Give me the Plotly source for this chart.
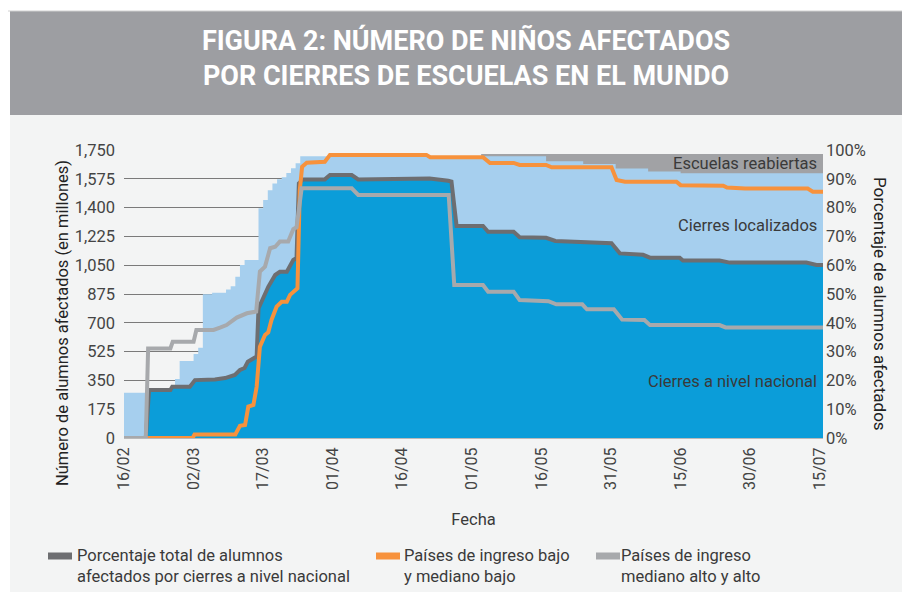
import plotly.graph_objects as go

# ---------------- data (x in days since 16/02/2020) ----------------
tick_days = [0, 15, 30, 45, 60, 75, 90, 105, 120, 135, 150]
tick_labels = ["16/02", "02/03", "17/03", "01/04", "16/04", "01/05",
               "16/05", "31/05", "15/06", "30/06", "15/07"]
left_ticks = [0, 175, 350, 525, 700, 875, 1050, 1225, 1400, 1575, 1750]
left_tick_labels = ["0", "175", "350", "525", "700", "875", "1,050", "1,225",
                    "1,400", "1,575", "1,750"]
right_ticks = [0, 10, 20, 30, 40, 50, 60, 70, 80, 90, 100]
right_tick_labels = ["0%", "10%", "20%", "30%", "40%", "50%", "60%", "70%",
                     "80%", "90%", "100%"]

# Escuelas reabiertas (top of grey band, millions)
reopen_days = [77, 151]
reopen_top = [1726, 1726]

# Total affected (national + localized), millions, step series
total_days = [0, 5, 11, 12, 15, 16, 17, 19, 22, 23, 24, 25, 26, 29, 30, 31, 32,
              33, 34, 35, 36, 37, 38, 91, 99, 106, 113, 120, 151]
total_vals = [275, 287, 358, 468, 510, 549, 873, 883, 902, 922, 980, 1051, 1082,
              1396, 1446, 1505, 1547, 1572, 1584, 1610, 1639, 1669, 1712, 1682,
              1665, 1637, 1620, 1608, 1608]

# National closures, millions
nat_days = [4.7, 5.4, 10, 10.4, 14.2, 15.3, 19.6, 21.8, 23.9, 25, 26, 26.7, 27.9,
            28.6, 29, 29.7, 31.1, 32.6, 33.6, 35.1, 35.8, 36.5, 37.2, 37.7, 38.6,
            43.3, 44.4, 49.1, 50.5, 65.9, 69.9, 70.6, 71.7, 77.4, 78.5, 84, 85.3,
            91, 93, 98.6, 105.1, 106.9, 111.9, 113.4, 119.8, 120.5, 128.4, 130.6,
            147.1, 149.3, 151]
nat_vals = [0, 287, 287, 306, 306, 348, 352, 360, 380, 410, 422, 460, 482, 492,
            785, 825, 915, 985, 1003, 1003, 1047, 1077, 1090, 1545, 1568, 1568,
            1593, 1593, 1568, 1572, 1560, 1555, 1285, 1285, 1250, 1250, 1218,
            1214, 1195, 1188, 1181, 1120, 1111, 1094, 1094, 1077, 1077, 1064,
            1064, 1050, 1050]

# Percentage lines
tot_pct_days = [0] + nat_days
tot_pct = [0, 0, 16.7, 16.7, 17.8, 17.8, 20.1, 20.3, 20.8, 21.9, 23.6, 24.3, 26.5,
           27.7, 28.3, 45, 47.3, 52.5, 56.6, 57.7, 57.7, 60.1, 61.8, 62.5, 88.4,
           89.8, 89.8, 91.3, 91.3, 89.8, 90.1, 89.3, 89, 73.6, 73.6, 71.6, 71.6,
           69.7, 69.5, 68.4, 68, 67.6, 64.1, 63.6, 62.6, 62.6, 61.6, 61.6, 60.9,
           60.9, 60.1, 60.1]

low_days = [0, 14.8, 15.2, 24, 25, 26.1, 26.8, 27.9, 28.6, 29.3, 30.4, 31.1, 31.8,
            32.9, 34, 35.1, 35.8, 36.9, 37.4, 37.9, 38.4, 39.4, 43.3, 44.4, 65.2,
            66, 77.4, 78.9, 84, 85.3, 91, 92.2, 105.1, 106.2, 108, 119.1, 120,
            129.2, 130, 133.9, 147.4, 148.5, 151]
low_pct = [0, 0, 1.2, 1.2, 4.2, 4.5, 10.9, 11.5, 17.8, 31.7, 35.8, 36.7, 41, 45.6,
           47.3, 47.3, 49.7, 51.4, 52, 86.1, 94.2, 95.6, 95.9, 98.3, 98.3, 97.5,
           97.5, 95.5, 95.5, 94.8, 94.8, 94, 94, 89.6, 89, 89, 87.8, 87.6, 87,
           86.6, 86.6, 85.5, 85.5]

high_days = [0, 4.7, 5.2, 10, 10.5, 15, 15.6, 19.3, 20.7, 22.1, 24.3, 26.5, 28.5,
             29.3, 30.4, 31.5, 32.6, 33.6, 35.4, 36.5, 37.2, 38.3, 49.1, 50.5, 70,
             71.2, 77.4, 78.5, 84, 85.3, 91.5, 93.2, 98.8, 99.8, 105.6, 107.4,
             112.2, 113.4, 128.4, 129.7, 151]
high_pct = [0, 0, 31.1, 31.1, 33.4, 33.4, 37.5, 37.5, 38.3, 39.2, 41.8, 43.3, 43.9,
            57.8, 59.5, 65.9, 66.4, 68.2, 68.2, 72.5, 73.2, 86.7, 86.7, 84.4, 84.4,
            53.1, 53.1, 50.8, 50.8, 47.9, 47.5, 46.4, 46.4, 44.7, 44.7, 41.1, 41.0,
            39.2, 39.2, 38.4, 38.4]

# ---------------- styling ----------------
W, H = 910, 592
OFF = 8                      # page body margin offset
L, R, T, B = 124 - OFF, 823 - OFF, 150 - OFF, 438 - OFF   # plot area in figure pixels
FONT = "Roboto"
FS = 16.5
C_DARKBLUE = "#0b9dd9"
C_LIGHTBLUE = "#a6cfee"
C_REOPEN = "#a1a2a5"
C_TOT = "#6d6e71"
C_LOW = "#f7923c"
C_HIGH = "#a7a9ac"
C_PANEL = "#f3f4f4"
C_TEXT = "#3a3a3a"


def px_x(px):
    """screen x pixel of the reference -> paper fraction"""
    return (px - OFF - L) / (R - L)


def px_y(py):
    return (B - (py - OFF)) / (B - T)


fig = go.Figure()

fig.add_trace(go.Scatter(x=reopen_days, y=reopen_top, mode="lines", line=dict(width=0, shape="hv"),
                         fill="tozeroy", fillcolor=C_REOPEN, name="Escuelas reabiertas",
                         hoverinfo="skip"))
fig.add_trace(go.Scatter(x=total_days, y=total_vals, mode="lines", line=dict(width=0, shape="hv"),
                         fill="tozeroy", fillcolor=C_LIGHTBLUE, name="Cierres localizados",
                         hoverinfo="skip"))
fig.add_trace(go.Scatter(x=nat_days, y=nat_vals, mode="lines", line=dict(width=0),
                         fill="tozeroy", fillcolor=C_DARKBLUE, name="Cierres a nivel nacional",
                         hoverinfo="skip"))

fig.add_trace(go.Scatter(x=tot_pct_days, y=tot_pct, mode="lines", yaxis="y2",
                         line=dict(color=C_TOT, width=4),
                         name="Porcentaje total de alumnos afectados por cierres a nivel nacional"))
fig.add_trace(go.Scatter(x=low_days, y=low_pct, mode="lines", yaxis="y2",
                         line=dict(color=C_LOW, width=4),
                         name="Países de ingreso bajo y mediano bajo"))
fig.add_trace(go.Scatter(x=high_days, y=high_pct, mode="lines", yaxis="y2",
                         line=dict(color=C_HIGH, width=4),
                         name="Países de ingreso mediano alto y alto"))

shapes = [
    # light panel
    dict(type="rect", xref="paper", yref="paper", x0=px_x(10), x1=px_x(W + OFF), y0=px_y(H + OFF),
         y1=px_y(11), fillcolor=C_PANEL, line=dict(width=0), layer="below"),
    # title band
    dict(type="rect", xref="paper", yref="paper", x0=px_x(10), x1=px_x(W + OFF), y0=px_y(115),
         y1=px_y(11), fillcolor="#9d9ea2", line=dict(width=0), layer="below"),
    # top hairline
    dict(type="line", xref="paper", yref="paper", x0=px_x(OFF), x1=px_x(W + OFF), y0=px_y(11),
         y1=px_y(11), line=dict(color="#d0d0d0", width=1), layer="below"),
]

legend_items = [
    (48, 78, C_TOT, "Porcentaje total de alumnos<br>afectados por cierres a nivel nacional"),
    (376, 405, C_LOW, "Países de ingreso bajo<br>y mediano bajo"),
    (596, 622, C_HIGH, "Países de ingreso<br>mediano alto y alto"),
]
annotations = []
for x0, xt, col, txt in legend_items:
    shapes.append(dict(type="line", xref="paper", yref="paper", x0=px_x(x0), x1=px_x(x0 + 24),
                       y0=px_y(556), y1=px_y(556), line=dict(color=col, width=7)))
    annotations.append(dict(xref="paper", yref="paper", x=px_x(xt - 3), y=px_y(566), text=txt,
                            showarrow=False, xanchor="left", yanchor="middle", align="left",
                            font=dict(family=FONT, size=FS, color=C_TEXT)))

for txt, py in [("Escuelas reabiertas", 163), ("Cierres localizados", 225),
                ("Cierres a nivel nacional", 381)]:
    annotations.append(dict(xref="paper", yref="paper", x=px_x(819), y=px_y(py), text=txt,
                            showarrow=False, xanchor="right", yanchor="middle",
                            font=dict(family=FONT, size=FS, color=C_TEXT)))

# axis titles
annotations.append(dict(xref="paper", yref="paper", x=px_x(62), y=px_y(323),
                        text="Número de alumnos afectados (en millones)", textangle=-90,
                        showarrow=False, xanchor="center", yanchor="middle",
                        font=dict(family=FONT, size=FS, color="#222222")))
annotations.append(dict(xref="paper", yref="paper", x=px_x(880), y=px_y(304),
                        text="Porcentaje de alumnos afectados", textangle=90,
                        showarrow=False, xanchor="center", yanchor="middle",
                        font=dict(family=FONT, size=17, color="#222222")))

fig.update_layout(
    width=W, height=H, autosize=False,
    margin=dict(l=L, r=W - R, t=T, b=H - B, pad=0),
    paper_bgcolor="white", plot_bgcolor=C_PANEL,
    showlegend=False,
    font=dict(family=FONT, size=FS, color=C_TEXT),
    title=dict(text="FIGURA 2: NÚMERO DE NIÑOS AFECTADOS<br>POR CIERRES DE ESCUELAS EN EL MUNDO",
               x=(466 - OFF) / W, xanchor="center", y=1 - (49.5 - OFF) / H, yanchor="middle",
               font=dict(family=FONT, size=27, color="white", weight="bold")),
    xaxis=dict(range=[0, 150.7], tickmode="array", tickvals=tick_days, ticktext=tick_labels,
               tickangle=-90, showgrid=False, zeroline=False, showline=True,
               linecolor="#b9b9b9", linewidth=1, ticks="", ticklabelstandoff=2,
               tickfont=dict(family=FONT, size=16, color="#444444"),
               title=dict(text="Fecha", standoff=24, font=dict(family=FONT, size=FS, color=C_TEXT))),
    yaxis=dict(range=[0, 1750], tickmode="array", tickvals=left_ticks, ticktext=left_tick_labels,
               showgrid=True, gridcolor="#7a7a7a", gridwidth=1, zeroline=False, showline=False,
               ticks="", ticklabelstandoff=8,
               tickfont=dict(family=FONT, size=16.5, color="#444444")),
    yaxis2=dict(range=[0, 100], overlaying="y", side="right", tickmode="array",
                tickvals=right_ticks, ticktext=right_tick_labels, showgrid=False, zeroline=False,
                showline=False, ticks="", ticklabelstandoff=2,
                tickfont=dict(family=FONT, size=16.5, color="#444444")),
    shapes=shapes,
    annotations=annotations,
)

fig.write_html("out.html")
